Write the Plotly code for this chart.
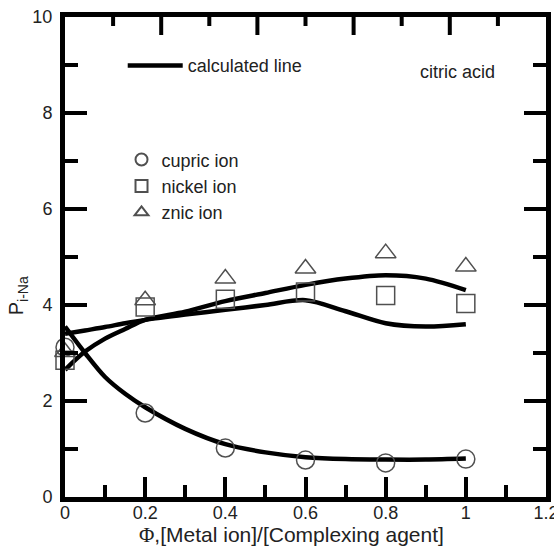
import plotly.graph_objects as go

# measured data
phi = [0, 0.2, 0.4, 0.6, 0.8, 1.0]
cupric = [3.12, 1.75, 1.02, 0.77, 0.71, 0.79]
nickel = [2.85, 3.96, 4.12, 4.27, 4.2, 4.03]
znic = [3.02, 4.1, 4.55, 4.76, 5.08, 4.8]

# calculated lines
calc_x = [0, 0.05, 0.1, 0.15, 0.2, 0.3, 0.4, 0.5, 0.6, 0.7, 0.8, 0.9, 1.0]
cupric_calc = [3.55, 3.0, 2.5, 2.15, 1.87, 1.42, 1.1, 0.93, 0.83, 0.79, 0.78, 0.78, 0.8]
nickel_calc = [3.4, 3.47, 3.54, 3.62, 3.69, 3.8, 3.9, 4.0, 4.1, 3.87, 3.62, 3.55, 3.6]
znic_calc = [2.65, 3.03, 3.3, 3.5, 3.69, 3.86, 4.08, 4.25, 4.42, 4.55, 4.62, 4.55, 4.31]

x_range = [0, 1.2]
y_range = [0, 10]
x_ticks = [0, 0.2, 0.4, 0.6, 0.8, 1, 1.2]
y_ticks = [0, 2, 4, 6, 8, 10]
# top frame ticks (fractions of the axis width; the top frame has its own tick spacing)
top_major = [0.2, 0.4, 0.6, 0.8]
top_minor = [0.1, 0.3, 0.5, 0.7, 0.9]

FONT = "Liberation Sans, Arial, sans-serif"
PLOT_H = 548 - 17 - 51
fig = go.Figure()

lstyle = dict(color="black", width=4.5, shape="spline", smoothing=0.9)
fig.add_trace(go.Scatter(x=calc_x, y=cupric_calc, mode="lines", line=lstyle,
                         name="calculated line", legend="legend2", showlegend=True))
fig.add_trace(go.Scatter(x=calc_x, y=nickel_calc, mode="lines", line=lstyle, showlegend=False))
fig.add_trace(go.Scatter(x=calc_x, y=znic_calc, mode="lines", line=lstyle, showlegend=False))

mk = dict(size=18, color="#505050", line=dict(width=1.5))
for name, vals, sym in [("cupric ion", cupric, "circle-open"),
                        ("nickel ion", nickel, "square-open"),
                        ("znic ion", znic, "triangle-up-open")]:
    fig.add_trace(go.Scatter(x=phi, y=vals, mode="markers", name=name,
                             marker=dict(symbol=sym, **mk), cliponaxis=False,
                             legend="legend"))

# top frame ticks, built from the tick fraction lists as line segments hanging from the top edge
span = x_range[1] - x_range[0]
units_per_px = (y_range[1] - y_range[0]) / PLOT_H
tx, ty = [], []
for fr_list, L in [(top_major, 18), (top_minor, 9)]:
    for f in fr_list:
        xv = x_range[0] + f * span
        tx += [xv, xv, None]
        ty += [y_range[1], y_range[1] - L * units_per_px, None]
fig.add_trace(go.Scatter(x=tx, y=ty, mode="lines", line=dict(color="black", width=4),
                         showlegend=False, hoverinfo="skip", cliponaxis=False))

fig.add_annotation(x=0.98, y=8.85, xref="x", yref="y", text="citric acid", showarrow=False,
                   xanchor="center", font=dict(size=18, color="#222", family=FONT))
fig.add_annotation(x=0.47, y=-0.079, xref="paper", yref="paper", showarrow=False,
                   xanchor="center", yanchor="middle",
                   text="<span style=\"font-family:'Liberation Serif'\">Φ</span>,[Metal ion]/[Complexing agent]",
                   font=dict(size=21, color="#222", family=FONT))
fig.add_annotation(x=-0.098, y=0.42, xref="paper", yref="paper", showarrow=False,
                   xanchor="center", yanchor="middle", textangle=-90,
                   text="P<sub>i-Na</sub>", font=dict(size=20, color="#222", family=FONT))

fig.update_layout(
    template="none",
    width=554, height=548,
    margin=dict(l=65, r=8, t=17, b=51, pad=0),
    paper_bgcolor="white", plot_bgcolor="white",
    font=dict(family=FONT, size=18, color="#222"),
    showlegend=True,
    legend=dict(x=0.1175, y=0.741, xanchor="left", yanchor="top", bgcolor="rgba(0,0,0,0)",
                font=dict(size=18, color="#222"), itemsizing="constant", tracegroupgap=0),
    legend2=dict(x=0.12, y=0.937, xanchor="left", yanchor="top", bgcolor="rgba(0,0,0,0)",
                 font=dict(size=18, color="#222"), itemwidth=55),
    xaxis=dict(range=x_range, tickvals=x_ticks, ticks="inside", ticklen=20, tickwidth=4,
               tickcolor="black", showline=True, linewidth=5, linecolor="black", mirror=True,
               minor=dict(dtick=0.1, tick0=0, ticks="inside", ticklen=12, tickwidth=4, tickcolor="black",
                          showgrid=False),
               showgrid=False, zeroline=False, tickfont=dict(size=18, color="#222"),
               ticklabelstandoff=-5, ticklabeloverflow="allow", automargin=False),
    yaxis=dict(range=y_range, tickvals=y_ticks, ticks="inside", ticklen=22, tickwidth=4,
               tickcolor="black", showline=True, linewidth=5, linecolor="black", mirror="ticks",
               minor=dict(dtick=1, tick0=0, ticks="inside", ticklen=13, tickwidth=4, tickcolor="black",
                          showgrid=False),
               showgrid=False, zeroline=False, tickfont=dict(size=18, color="#222"),
               ticklabelstandoff=4, ticklabeloverflow="allow", automargin=False),
)

fig.write_html("out.html", config={"displayModeBar": False},
               post_script="document.body.style.margin='0';document.body.style.padding='0';")
